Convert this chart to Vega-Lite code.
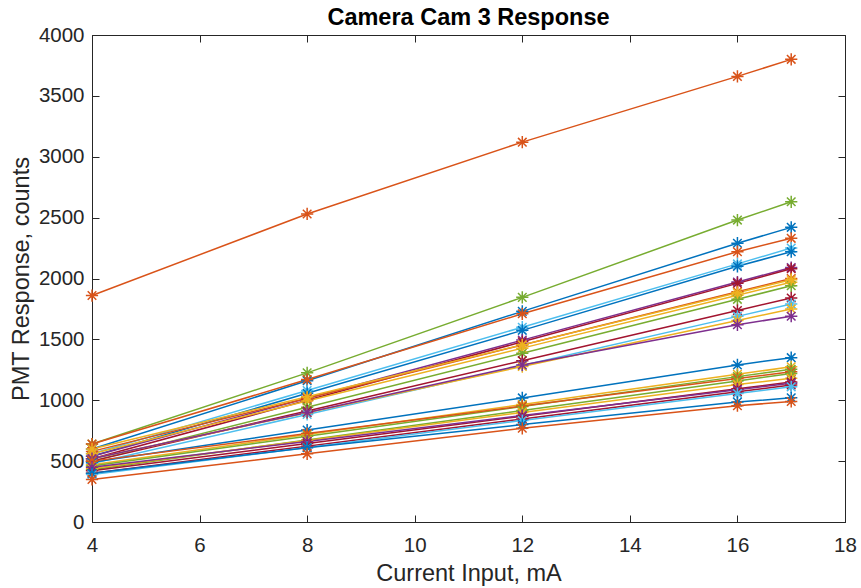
{
  "$schema": "https://vega.github.io/schema/vega-lite/v6.json",
  "width": 753,
  "height": 487,
  "autosize": {"type": "none"},
  "padding": {"left": 92, "top": 35, "right": 16, "bottom": 66},
  "background": "white",
  "config": {
    "view": {"stroke": "#262626", "strokeWidth": 1},
    "font": "Liberation Sans",
    "axis": {
      "grid": false,
      "labelFont": "Liberation Sans",
      "titleFont": "Liberation Sans",
      "labelFontSize": 20.5,
      "titleFontSize": 23.5,
      "titleFontWeight": "normal",
      "labelColor": "#262626",
      "titleColor": "#262626",
      "domainColor": "#262626",
      "tickColor": "#262626",
      "tickSize": -7,
      "labelFlush": false,
      "labelOverlap": false,
      "format": "d"
    }
  },
  "title": {"text": "Camera Cam 3 Response", "fontSize": 23.5, "fontWeight": "bold", "font": "Liberation Sans", "color": "#000000", "offset": -4, "anchor": "middle"},
  "data": {"values": [
    {"s":"s01","x":4,"y":1860},{"s":"s01","x":8,"y":2530},{"s":"s01","x":12,"y":3120},{"s":"s01","x":16,"y":3660},{"s":"s01","x":17,"y":3800},
    {"s":"s02","x":4,"y":640},{"s":"s02","x":8,"y":1225},{"s":"s02","x":12,"y":1845},{"s":"s02","x":16,"y":2480},{"s":"s02","x":17,"y":2630},
    {"s":"s03","x":4,"y":600},{"s":"s03","x":8,"y":1160},{"s":"s03","x":12,"y":1730},{"s":"s03","x":16,"y":2290},{"s":"s03","x":17,"y":2420},
    {"s":"s04","x":4,"y":640},{"s":"s04","x":8,"y":1170},{"s":"s04","x":12,"y":1710},{"s":"s04","x":16,"y":2220},{"s":"s04","x":17,"y":2330},
    {"s":"s05","x":4,"y":560},{"s":"s05","x":8,"y":1080},{"s":"s05","x":12,"y":1600},{"s":"s05","x":16,"y":2120},{"s":"s05","x":17,"y":2250},
    {"s":"s06","x":4,"y":540},{"s":"s06","x":8,"y":1057},{"s":"s06","x":12,"y":1574},{"s":"s06","x":16,"y":2100},{"s":"s06","x":17,"y":2220},
    {"s":"s07","x":4,"y":540},{"s":"s07","x":8,"y":1017},{"s":"s07","x":12,"y":1494},{"s":"s07","x":16,"y":1971},{"s":"s07","x":17,"y":2090},
    {"s":"s08","x":4,"y":520},{"s":"s08","x":8,"y":1000},{"s":"s08","x":12,"y":1480},{"s":"s08","x":16,"y":1960},{"s":"s08","x":17,"y":2080},
    {"s":"s09","x":4,"y":580},{"s":"s09","x":8,"y":1017},{"s":"s09","x":12,"y":1454},{"s":"s09","x":16,"y":1891},{"s":"s09","x":17,"y":2000},
    {"s":"s10","x":4,"y":560},{"s":"s10","x":8,"y":994},{"s":"s10","x":12,"y":1428},{"s":"s10","x":16,"y":1862},{"s":"s10","x":17,"y":1970},
    {"s":"s11","x":4,"y":500},{"s":"s11","x":8,"y":943},{"s":"s11","x":12,"y":1386},{"s":"s11","x":16,"y":1829},{"s":"s11","x":17,"y":1940},
    {"s":"s12","x":4,"y":600},{"s":"s12","x":8,"y":1028},{"s":"s12","x":12,"y":1455},{"s":"s12","x":16,"y":1883},{"s":"s12","x":17,"y":1990},
    {"s":"s13","x":4,"y":500},{"s":"s13","x":8,"y":912},{"s":"s13","x":12,"y":1325},{"s":"s13","x":16,"y":1737},{"s":"s13","x":17,"y":1840},
    {"s":"s14","x":4,"y":480},{"s":"s14","x":8,"y":883},{"s":"s14","x":12,"y":1286},{"s":"s14","x":16,"y":1689},{"s":"s14","x":17,"y":1790},
    {"s":"s15","x":4,"y":520},{"s":"s15","x":8,"y":898},{"s":"s15","x":12,"y":1277},{"s":"s15","x":16,"y":1655},{"s":"s15","x":17,"y":1750},
    {"s":"s16","x":4,"y":520},{"s":"s16","x":8,"y":900},{"s":"s16","x":12,"y":1290},{"s":"s16","x":16,"y":1620},{"s":"s16","x":17,"y":1690},
    {"s":"s17","x":4,"y":490},{"s":"s17","x":8,"y":755},{"s":"s17","x":12,"y":1019},{"s":"s17","x":16,"y":1290},{"s":"s17","x":17,"y":1350},
    {"s":"s18","x":4,"y":470},{"s":"s18","x":8,"y":718},{"s":"s18","x":12,"y":965},{"s":"s18","x":16,"y":1213},{"s":"s18","x":17,"y":1275},
    {"s":"s19","x":4,"y":460},{"s":"s19","x":8,"y":705},{"s":"s19","x":12,"y":949},{"s":"s19","x":16,"y":1194},{"s":"s19","x":17,"y":1255},
    {"s":"s20","x":4,"y":500},{"s":"s20","x":8,"y":726},{"s":"s20","x":12,"y":952},{"s":"s20","x":16,"y":1178},{"s":"s20","x":17,"y":1235},
    {"s":"s21","x":4,"y":430},{"s":"s21","x":8,"y":673},{"s":"s21","x":12,"y":916},{"s":"s21","x":16,"y":1159},{"s":"s21","x":17,"y":1220},
    {"s":"s22","x":4,"y":440},{"s":"s22","x":8,"y":670},{"s":"s22","x":12,"y":900},{"s":"s22","x":16,"y":1130},{"s":"s22","x":17,"y":1180},
    {"s":"s23","x":4,"y":420},{"s":"s23","x":8,"y":645},{"s":"s23","x":12,"y":869},{"s":"s23","x":16,"y":1094},{"s":"s23","x":17,"y":1150},
    {"s":"s24","x":4,"y":450},{"s":"s24","x":8,"y":662},{"s":"s24","x":12,"y":875},{"s":"s24","x":16,"y":1087},{"s":"s24","x":17,"y":1140},
    {"s":"s25","x":4,"y":400},{"s":"s25","x":8,"y":623},{"s":"s25","x":12,"y":846},{"s":"s25","x":16,"y":1069},{"s":"s25","x":17,"y":1125},
    {"s":"s26","x":4,"y":390},{"s":"s26","x":8,"y":612},{"s":"s26","x":12,"y":833},{"s":"s26","x":16,"y":1055},{"s":"s26","x":17,"y":1110},
    {"s":"s27","x":4,"y":400},{"s":"s27","x":8,"y":610},{"s":"s27","x":12,"y":800},{"s":"s27","x":16,"y":985},{"s":"s27","x":17,"y":1020},
    {"s":"s28","x":4,"y":350},{"s":"s28","x":8,"y":560},{"s":"s28","x":12,"y":770},{"s":"s28","x":16,"y":955},{"s":"s28","x":17,"y":990}
  ]},
  "layer": [
    {
      "mark": {"type": "line", "strokeWidth": 1.5, "point": {"shape": "M-1,0L1,0M0,-1L0,1M-0.7,-0.7L0.7,0.7M-0.7,0.7L0.7,-0.7", "filled": false, "size": 150, "strokeWidth": 1.5}},
      "encoding": {
        "x": {"field": "x", "type": "quantitative", "scale": {"domain": [4, 18], "nice": false}, "axis": {"values": [4,6,8,10,12,14,16,18], "title": "Current Input, mA", "titlePadding": 6, "labelPadding": 20}},
        "y": {"field": "y", "type": "quantitative", "scale": {"domain": [0, 4000], "nice": false}, "axis": {"values": [0,500,1000,1500,2000,2500,3000,3500,4000], "title": "PMT Response, counts", "titlePadding": 5, "labelPadding": 15}},
        "color": {"field": "s", "type": "nominal", "legend": null, "scale": {
          "domain": ["s01","s02","s03","s04","s05","s06","s07","s08","s09","s10","s11","s12","s13","s14","s15","s16","s17","s18","s19","s20","s21","s22","s23","s24","s25","s26","s27","s28"],
          "range": ["#D95319","#77AC30","#0072BD","#D95319","#4DBEEE","#0072BD","#7E2F8E","#A2142F","#D95319","#EDB120","#77AC30","#EDB120","#A2142F","#4DBEEE","#EDB120","#7E2F8E","#0072BD","#EDB120","#77AC30","#D95319","#77AC30","#EDB120","#A2142F","#7E2F8E","#A2142F","#4DBEEE","#0072BD","#D95319"]}}
      }
    },
    {
      "mark": {"type": "point", "opacity": 0},
      "encoding": {
        "x": {"field": "x", "type": "quantitative", "scale": {"domain": [4, 18], "nice": false}, "axis": {"orient": "top", "values": [4,6,8,10,12,14,16,18], "labels": false, "title": null, "domain": false}},
        "y": {"field": "y", "type": "quantitative", "scale": {"domain": [0, 4000], "nice": false}, "axis": {"orient": "right", "values": [0,500,1000,1500,2000,2500,3000,3500,4000], "labels": false, "title": null, "domain": false}}
      }
    }
  ],
  "resolve": {"axis": {"x": "independent", "y": "independent"}}
}
